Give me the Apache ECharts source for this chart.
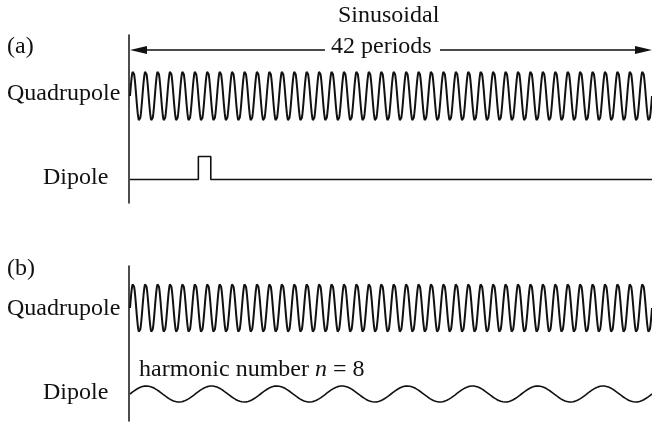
<!DOCTYPE html>
<html>
<head>
<meta charset="utf-8">
<script src="https://cdn.jsdelivr.net/npm/echarts@6/dist/echarts.min.js"></script>
<style>
html,body{margin:0;padding:0;background:#fff;}
#c{width:652px;height:424px;}
</style>
</head>
<body>
<div id="c"></div>
<script>
// ---- data ----
const quadrupolePeriods = 42;          // "42 periods"
const dipoleHarmonic = 8;              // harmonic number n = 8
const pulseStartPeriod = 5.5;          // dipole kick in (a), in periods
const pulseEndPeriod = 6.5;
const pulseHeight = 1;
const samplesPerPeriod = 24;
const panelLabels = ['(a)', '(b)'];
const traceLabels = ['Quadrupole', 'Dipole'];
const topLabels = ['Sinusoidal', '42 periods'];
const harmonicLabel = ['harmonic number ', 'n', ' = 8'];

// sinusoid defined by the figure's stated period counts
function sinusoid(cycles) {
  const pts = [];
  const n = quadrupolePeriods * samplesPerPeriod;
  for (let i = 0; i <= n; i++) {
    const x = i / samplesPerPeriod;
    pts.push([x, Math.sin(2 * Math.PI * cycles * x / quadrupolePeriods)]);
  }
  return pts;
}
const quadA = sinusoid(quadrupolePeriods);
const quadB = sinusoid(quadrupolePeriods);
const dipoleB = sinusoid(dipoleHarmonic);
const dipoleA = [[0, 0], [pulseStartPeriod, 0], [pulseStartPeriod, pulseHeight],
                 [pulseEndPeriod, pulseHeight], [pulseEndPeriod, 0], [quadrupolePeriods, 0]];

const INK = '#111';
const FONT = '24px "Liberation Serif", "Times New Roman", serif';
const LEFT = 130, WIDTH = 523;

const grids = [
  {left: LEFT, width: WIDTH, top: 71, height: 50},      // quad a
  {left: LEFT, width: WIDTH, top: 156.5, height: 23},   // dipole a
  {left: LEFT, width: WIDTH, top: 283.5, height: 49},   // quad b
  {left: LEFT, width: WIDTH, top: 386, height: 16},     // dipole b
  {left: 129, width: WIDTH, top: 35, height: 168},      // panel a frame
  {left: 129, width: WIDTH, top: 266, height: 155}      // panel b frame
];
const yr = [[-1, 1], [0, 1], [-1, 1], [-1, 1], [0, 1], [0, 1]];

const xAxes = grids.map((g, i) => ({
  type: 'value', gridIndex: i, min: 0, max: quadrupolePeriods, show: false
}));
const yAxes = grids.map((g, i) => ({
  type: 'value', gridIndex: i, min: yr[i][0], max: yr[i][1],
  show: i >= 4,
  axisLine: {show: i >= 4, lineStyle: {color: INK, width: 1.5}},
  axisTick: {show: false}, axisLabel: {show: false}, splitLine: {show: false}
}));

function lineSeries(data, idx, w) {
  return {
    type: 'line', xAxisIndex: idx, yAxisIndex: idx, data: data,
    showSymbol: false, symbol: 'none', smooth: false, clip: false,
    lineStyle: {color: INK, width: w}, animation: false, silent: true
  };
}

function txt(s, x, y, align) {
  return {type: 'text', style: {text: s, x: x, y: y, font: FONT, fill: INK,
    textAlign: align || 'left', textVerticalAlign: 'middle',
    align: align || 'left', verticalAlign: 'middle'}};
}

const graphics = [
  txt(topLabels[0], 338, 16),
  txt(topLabels[1], 331, 47),
  txt(panelLabels[0], 7, 47),
  txt(panelLabels[1], 7, 269),
  txt(traceLabels[0], 7, 94),
  txt(traceLabels[1], 43, 178),
  txt(traceLabels[0], 7, 309),
  txt(traceLabels[1], 43, 392.5),
  {type: 'text', style: {
    text: '{r|' + harmonicLabel[0] + '}{i|' + harmonicLabel[1] + '}{r|' + harmonicLabel[2] + '}',
    x: 139, y: 370, fill: INK, verticalAlign: 'middle', textVerticalAlign: 'middle',
    rich: {
      r: {font: FONT, fill: INK},
      i: {font: 'italic ' + FONT, fill: INK}
    }
  }},
  // double-headed arrow with a gap for the label
  {type: 'line', shape: {x1: 140, y1: 50, x2: 325, y2: 50}, style: {stroke: INK, lineWidth: 1.5}},
  {type: 'line', shape: {x1: 440, y1: 50, x2: 642, y2: 50}, style: {stroke: INK, lineWidth: 1.5}},
  {type: 'polygon', shape: {points: [[130, 50], [147, 46], [147, 54]]}, style: {fill: INK}},
  {type: 'polygon', shape: {points: [[652, 50], [635, 46], [635, 54]]}, style: {fill: INK}}
];

const chart = echarts.init(document.getElementById('c'), null, {renderer: 'canvas'});
chart.setOption({
  animation: false,
  backgroundColor: '#fff',
  grid: grids.map(g => Object.assign({containLabel: false}, g)),
  xAxis: xAxes,
  yAxis: yAxes,
  series: [
    lineSeries(quadA, 0, 2),
    lineSeries(dipoleA, 1, 1.6),
    lineSeries(quadB, 2, 2),
    lineSeries(dipoleB, 3, 1.6)
  ],
  graphic: graphics
});
</script>
</body>
</html>
